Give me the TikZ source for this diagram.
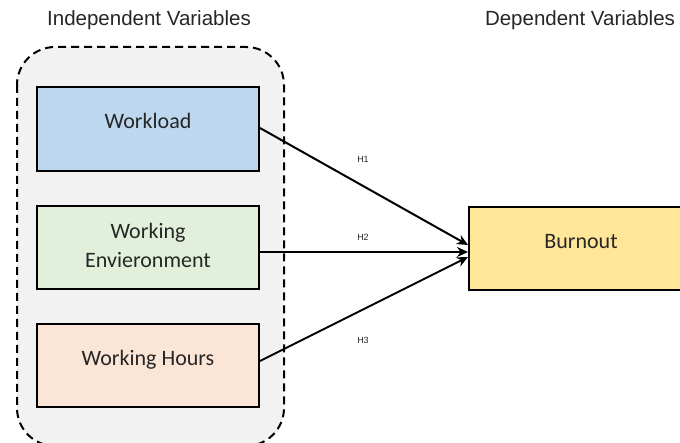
\documentclass[tikz,border=0pt]{standalone}
\usepackage{fontspec}
\setmainfont{Liberation Sans}
\newfontfamily\boxfont{Carlito}
\usetikzlibrary{arrows.meta}
\definecolor{grpfill}{HTML}{F2F2F2}
\definecolor{bluefill}{HTML}{BDD7EE}
\definecolor{greenfill}{HTML}{E2EFDA}
\definecolor{peachfill}{HTML}{FBE5D6}
\definecolor{yellowfill}{HTML}{FFE699}
\definecolor{txt}{HTML}{262626}
\tikzset{
  varbox/.style={draw=black, line width=2pt, minimum width=222pt, minimum height=83pt,
    inner sep=0pt, align=center, text=txt, font=\boxfont\fontsize{22}{29}\selectfont},
  title/.style={font=\fontsize{20.5}{24}\selectfont, text=txt, inner sep=0pt},
  hyp/.style={font=\fontsize{9}{11}\selectfont, text=txt, inner sep=0pt},
  link/.style={line width=2pt, -{Stealth[length=11pt,width=10pt]}}
}
\begin{document}
\begin{tikzpicture}[x=1pt,y=-1pt]
\useasboundingbox (0,0) rectangle (680,443);
\begin{scope}
\clip (0,0) rectangle (680,443);
\draw[fill=grpfill, line width=2pt, dash pattern=on 8pt off 5pt, rounded corners=38pt]
  (17,47) rectangle (284,446);
\node[title] (indep) at (149,20) {Independent Variables};
\node[title] (dep) at (580,20) {Dependent Variables};
\node[varbox, fill=bluefill, minimum height=84pt] (wl) at (148,129) {\raisebox{16pt}{Workload}};
\node[varbox, fill=greenfill] (we) at (148,247.5) {\raisebox{4pt}{Working}\\\raisebox{4pt}{Envieronment}};
\node[varbox, fill=peachfill] (wh) at (148,365.5) {\raisebox{16pt}{Working Hours}};
\node[varbox, fill=yellowfill, minimum width=224pt] (bo) at (581,248.5) {\raisebox{14pt}{Burnout}};
\draw[link] ([yshift=1pt]wl.east) -- ([yshift=3.5pt]bo.west);
\draw[link] ([yshift=-4.5pt]we.east) -- ([yshift=-3.5pt]bo.west);
\draw[link] ([yshift=4.5pt]wh.east) -- ([yshift=-8.5pt]bo.west);
\node[hyp] (h1) at (363,159) {H1};
\node[hyp] (h2) at (363,237) {H2};
\node[hyp] (h3) at (363,340) {H3};
\end{scope}
\end{tikzpicture}
\end{document}
